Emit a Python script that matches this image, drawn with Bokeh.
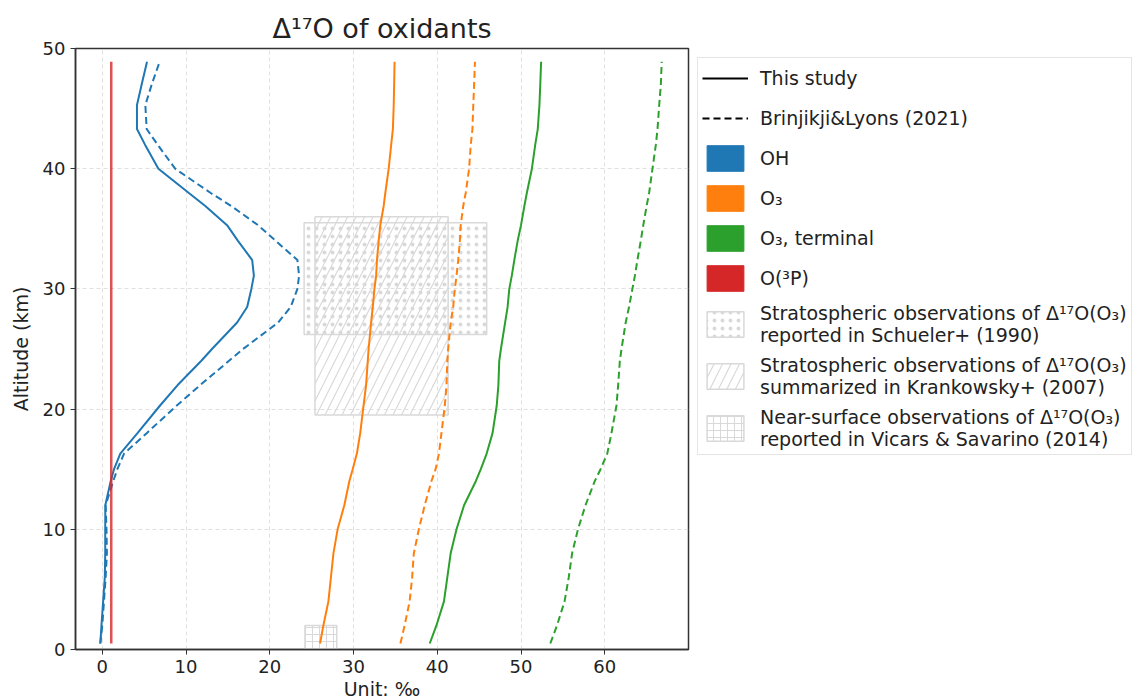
from bokeh.plotting import figure
from bokeh.models import Range1d, Legend, LegendItem, ColumnDataSource, FixedTicker
from bokeh.embed import file_html
from bokeh.resources import INLINE

# ---- data ----
altitude = [0.5, 2, 4, 6, 8, 10, 12, 14, 15, 16.3, 18, 20.3, 22, 24, 25, 27.2, 28.5,
            30, 31.1, 32.4, 34, 35.3, 36.9, 38, 40, 42, 43.3, 45.3, 47, 48.9]

oh_this = [-0.24, -0.1, 0.1, 0.3, 0.35, 0.35, 0.36, 1.0, 1.4, 2.15, 4.2, 6.9, 9.0, 11.8,
           13.1, 16.1, 17.3, 17.8, 18.1, 17.9, 16.2, 14.9, 12.3, 10.3, 6.7, 5.1, 4.14,
           4.14, 4.7, 5.34]
oh_bl = [-0.24, 0.0, 0.2, 0.4, 0.55, 0.5, 0.4, 1.3, 1.8, 2.6, 5.3, 8.9, 11.7, 15.1,
         16.8, 21.0, 22.5, 23.3, 23.5, 23.3, 20.7, 18.6, 15.4, 12.9, 8.7, 6.6, 5.3,
         5.14, 5.9, 6.85]
o3_this = [26.0, 26.4, 27.0, 27.3, 27.6, 28.1, 28.9, 29.5, 29.9, 30.4, 30.8, 31.2, 31.5,
           31.7, 31.8, 32.1, 32.3, 32.5, 32.7, 32.8, 33.0, 33.2, 33.6, 33.8, 34.2, 34.5,
           34.7, 34.8, 34.85, 34.9]
o3_bl = [35.6, 36.1, 36.7, 37.0, 37.2, 37.8, 38.5, 39.3, 39.8, 40.2, 40.5, 40.9, 41.1,
         41.2, 41.3, 41.6, 41.9, 42.1, 42.3, 42.5, 42.7, 42.8, 43.1, 43.4, 43.8, 44.0,
         44.2, 44.3, 44.4, 44.5]
o3t_this = [39.1, 39.9, 40.8, 41.2, 41.6, 42.3, 43.2, 44.6, 45.2, 45.9, 46.6, 47.1, 47.3,
            47.4, 47.6, 48.1, 48.4, 48.6, 48.9, 49.2, 49.6, 50.0, 50.4, 50.7, 51.3, 51.7,
            52.0, 52.2, 52.3, 52.4]
o3t_bl = [53.5, 54.3, 55.2, 55.7, 56.1, 56.8, 57.7, 58.8, 59.5, 60.3, 60.8, 61.4, 61.6,
          61.8, 62.0, 62.5, 62.9, 63.3, 63.6, 63.9, 64.3, 64.6, 65.0, 65.3, 65.7, 66.1,
          66.3, 66.5, 66.7, 66.8]
o3p_this = [1.07] * len(altitude)

# observation boxes: [x_left, x_right, alt_bottom, alt_top]
schueler_box = [24.1, 45.9, 26.2, 35.5]
krankowsky_box = [25.4, 41.3, 19.5, 36.0]
vicars_box = [24.2, 28.0, 0.0, 2.0]

x_ticks = [0, 10, 20, 30, 40, 50, 60]
y_ticks = [0, 10, 20, 30, 40, 50]

labels = ["This study", "Brinjikji&Lyons (2021)", "OH", "O\u2083", "O\u2083, terminal",
          "O(\u00b3P)",
          "Stratospheric observations of \u0394\u00b9\u2077O(O\u2083)\nreported in Schueler+ (1990)",
          "Stratospheric observations of \u0394\u00b9\u2077O(O\u2083)\nsummarized in Krankowsky+ (2007)",
          "Near-surface observations of \u0394\u00b9\u2077O(O\u2083)\nreported in Vicars & Savarino (2014)"]

BLUE, ORANGE, GREEN, RED = "#1f77b4", "#ff7f0e", "#2ca02c", "#d62728"
FONT = "DejaVu Sans"
HATCH = "#d9d9d9"

p = figure(frame_width=613, frame_height=601, output_backend="svg", toolbar_location=None,
           x_range=Range1d(-3.2, 70), y_range=Range1d(0, 50),
           min_border_left=75, min_border_right=0, min_border_top=48,
           min_border_bottom=51, title="\u0394\u00b9\u2077O of oxidants")

p.title.align = "center"
p.title.text_font = FONT
p.title.text_font_size = "27px"
p.title.text_font_style = "normal"
p.title.text_color = "#222222"

# boxes
def box(b, pattern, scale, weight):
    return p.quad(left=[b[0]], right=[b[1]], bottom=[b[2]], top=[b[3]],
                  fill_color=None, line_color=HATCH, line_width=1.5,
                  hatch_pattern=pattern, hatch_color=HATCH, hatch_scale=scale,
                  hatch_weight=weight)

r_kr = box(krankowsky_box, "/", 17, 1.2)
r_sc = box(schueler_box, ".", 8, 1.6)
r_vi = box(vicars_box, "+", 7, 1.0)

lw = 2
dash = "7 4"
p.line(oh_this, altitude, line_color=BLUE, line_width=lw)
p.line(oh_bl, altitude, line_color=BLUE, line_width=lw, line_dash=dash)
p.line(o3_this, altitude, line_color=ORANGE, line_width=lw)
p.line(o3_bl, altitude, line_color=ORANGE, line_width=lw, line_dash=dash)
p.line(o3t_this, altitude, line_color=GREEN, line_width=lw)
p.line(o3t_bl, altitude, line_color=GREEN, line_width=lw, line_dash=dash)
p.line(o3p_this, altitude, line_color=RED, line_width=lw + 0.5, line_alpha=0.8)

# legend proxies (NaN points: nothing drawn in the plot)
nan = float("nan")
proxy_src = lambda: ColumnDataSource(dict(x=[nan, nan], y=[nan, nan]))
l_solid = p.line("x", "y", source=proxy_src(), line_color="black", line_width=lw)
l_dash = p.line("x", "y", source=proxy_src(), line_color="black", line_width=lw,
                line_dash=dash)

def patch(c):
    return p.quad(left="x", right="x", bottom="y", top="y", source=proxy_src(),
                  fill_color=c, line_color=c)

proxies = [l_solid, l_dash, patch(BLUE), patch(ORANGE), patch(GREEN), patch(RED),
           r_sc, r_kr, r_vi]
items = [LegendItem(label=lab, renderers=[r]) for lab, r in zip(labels, proxies)]
legend = Legend(items=items, location="top_left", orientation="vertical",
                glyph_width=46, glyph_height=32, label_standoff=12, spacing=8,
                padding=4, margin=9, label_text_font=FONT, label_text_font_size="19px",
                label_text_color="#222222",
                border_line_color="#cccccc", border_line_width=1,
                background_fill_color="white", background_fill_alpha=0.8)
p.add_layout(legend, "right")

# axes
for ax in (p.xaxis, p.yaxis):
    ax.major_label_text_font = FONT
    ax.major_label_text_font_size = "18px"
    ax.major_label_text_color = "#222222"
    ax.axis_label_text_font = FONT
    ax.axis_label_text_font_size = "19px"
    ax.axis_label_text_font_style = "normal"
    ax.axis_label_text_color = "#222222"
    ax.axis_line_color = "#333333"
    ax.axis_line_width = 1.5
    ax.major_tick_line_color = "#333333"
    ax.major_tick_out = 5
    ax.major_tick_in = 0
    ax.minor_tick_line_color = None

p.xaxis.ticker = FixedTicker(ticks=x_ticks)
p.yaxis.ticker = FixedTicker(ticks=y_ticks)
p.xaxis.axis_label = "Unit: \u2030"
p.yaxis.axis_label = "Altitude (km)"
p.xaxis.axis_label_standoff = 2
p.yaxis.axis_label_standoff = 8

p.grid.grid_line_color = "#cccccc"
p.grid.grid_line_alpha = 0.6
p.grid.grid_line_dash = "4 3"
p.outline_line_color = "#333333"
p.outline_line_width = 1.5
p.background_fill_color = "white"

open("out.html", "w").write(file_html(p, INLINE))
